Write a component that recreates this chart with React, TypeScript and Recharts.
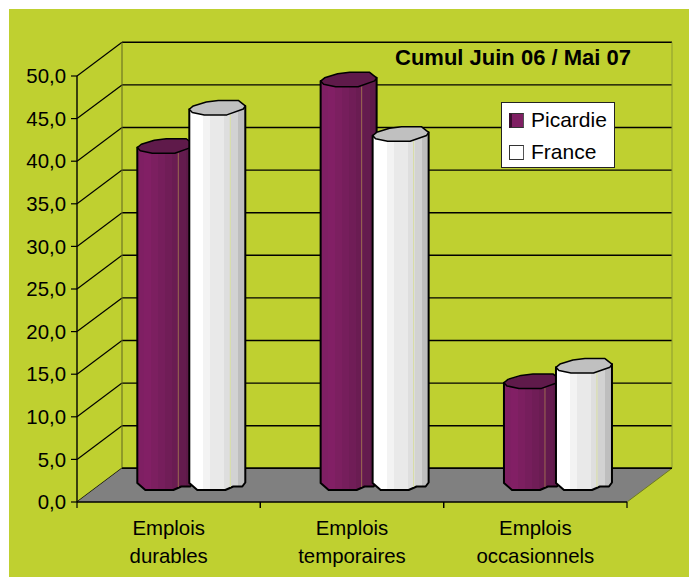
import React from 'react';
import { ComposedChart, Bar, XAxis, YAxis, CartesianGrid, Legend } from 'recharts';

const categories = ['Emplois durables', 'Emplois temporaires', 'Emplois occasionnels'];
const picardie = [39.7, 47.5, 12.1];
const france = [44.2, 41.1, 13.9];
const yTicks = [0, 5, 10, 15, 20, 25, 30, 35, 40, 45, 50];

const data = categories.map((name, i) => ({ name, picardie: picardie[i], france: france[i] }));

const FONT = '"Liberation Sans", Arial, sans-serif';
const BG = '#BFD030';

// fake 3D depth of the Excel chart
const DEPTH_X = 45;
const DEPTH_Y = 33.7;
const LEFT = 77;
const RIGHT = 627;
const BOTTOM = 502;

const PURPLE_BANDS = ['#7F1F63', '#821F65', '#7C1F60', '#761E5C', '#701D57', '#6A1C52', '#641B4E', '#5E1A49'];
const WHITE_BANDS = ['#FFFFFF', '#FFFFFF', '#F3F3F3', '#E9E9E9', '#E9E9E9', '#DEDEDE', '#D2D2D2', '#BEBEBE'];

function Bands({ id, colors }: { id: string; colors: string[] }) {
  return (
    <linearGradient id={id} x1="0" y1="0" x2="1" y2="0">
      {colors.flatMap((c, i) => [
        <stop key={`${i}a`} offset={i / colors.length} stopColor={c} />,
        <stop key={`${i}b`} offset={(i + 1) / colors.length} stopColor={c} />,
      ])}
    </linearGradient>
  );
}

// faceted cylinder, the way Excel draws it at low resolution
function Cylinder(props: any) {
  const { x, y, height, fillId, capColor, faint } = props;
  const L = x + 20.3;
  const T = y - 25;
  const B = y + height - 12;
  const body = [
    [L, T + 8.8], [L, B - 7], [L + 8, B], [L + 36, B], [L + 44, B - 3.5], [L + 53, B - 3.5], [L + 56, B - 7.5], [L + 56, T + 5.5],
  ];
  const cap = [
    [L, T + 8.8], [L + 3, T + 12], [L + 15, T + 14.5], [L + 37.5, T + 14.5], [L + 54, T + 8.6], [L + 56, T + 5.5], [L + 49, T], [L + 29, T], [L + 17, T + 1.5], [L + 4, T + 5.5],
  ];
  const pts = (a: number[][]) => a.map((p) => p.join(',')).join(' ');
  return (
    <g>
      <polygon points={pts(body)} fill={`url(#${fillId})`} stroke="#000" strokeWidth={2} strokeLinejoin="round" />
      <line x1={L + 41} x2={L + 41} y1={T + 14} y2={B - 3} stroke={faint} strokeWidth={1} />
      <polygon points={pts(cap)} fill={capColor} stroke="#000" strokeWidth={1.5} strokeLinejoin="round" />
    </g>
  );
}

function WallLine(props: any) {
  const { x1, x2, y1, y2 } = props;
  return (
    <g>
      <line x1={x1} y1={y1} x2={x1 + DEPTH_X} y2={y1 - DEPTH_Y} stroke="#000" strokeWidth={1.2} />
      <line x1={x1 + DEPTH_X} y1={y1 - DEPTH_Y} x2={x2 + DEPTH_X} y2={y2 - DEPTH_Y} stroke="#000" strokeWidth={1.4} />
    </g>
  );
}

function CategoryTick(props: any) {
  const { x, y, payload } = props;
  const half = (RIGHT - LEFT) / categories.length / 2;
  const words = String(payload.value).split(' ');
  return (
    <g>
      <line x1={x - half} x2={x - half} y1={BOTTOM} y2={BOTTOM + 6} stroke="#000" strokeWidth={1.2} />
      <line x1={x + half} x2={x + half} y1={BOTTOM} y2={BOTTOM + 6} stroke="#000" strokeWidth={1.2} />
      {words.map((w, i) => (
        <text key={w} x={x} y={y + 25 + i * 28} textAnchor="middle" fontFamily={FONT} fontSize={20.4} fill="#000">
          {w}
        </text>
      ))}
    </g>
  );
}

function LegendBox() {
  const row = (label: string, color: string, dark: string, edge: number) => (
    <div style={{ display: 'flex', alignItems: 'center', height: 32 }}>
      <span
        style={{
          display: 'inline-block',
          width: 15 - edge - 1,
          height: 13,
          marginRight: 7,
          background: color,
          borderLeft: `${edge}px solid ${dark}`,
          borderTop: '1px solid #333',
          borderBottom: '1px solid #333',
          borderRight: '1px solid #555',
        }}
      />
      <span>{label}</span>
    </div>
  );
  return (
    <div
      style={{
        boxSizing: 'border-box',
        width: 114,
        height: 66,
        padding: '1px 0 0 7px',
        background: '#fff',
        border: '1px solid #222',
        fontFamily: FONT,
        fontSize: 21,
        color: '#000',
      }}
    >
      {row('Picardie', '#7F1F63', '#3A0F2E', 3)}
      {row('France', '#fff', '#333', 1)}
    </div>
  );
}

export default function App() {
  return (
    <div style={{ position: 'absolute', left: 0, top: 0, width: 689, height: 577, background: '#fff', overflow: 'hidden' }}>
      <div style={{ position: 'absolute', left: 9, top: 9, width: 680, height: 568, background: BG }} />
      <div style={{ position: 'absolute', left: 0, top: 0 }}>
        <ComposedChart
          width={689}
          height={577}
          data={data}
          barGap={0}
          barCategoryGap={0}
          margin={{ top: 76, right: 62, bottom: 5, left: 7 }}
        >
          <defs>
            <Bands id="purpleBands" colors={PURPLE_BANDS} />
            <Bands id="whiteBands" colors={WHITE_BANDS} />
          </defs>
          <CartesianGrid vertical={false} horizontal={(p: any) => <WallLine key={p.key} {...p} />} />
          <polygon
            points={`${LEFT},${BOTTOM} ${RIGHT},${BOTTOM} ${RIGHT + DEPTH_X},${BOTTOM - DEPTH_Y} ${LEFT + DEPTH_X},${BOTTOM - DEPTH_Y}`}
            fill="#808080"
          />
          <line x1={LEFT + DEPTH_X} x2={LEFT + DEPTH_X} y1={42.3} y2={BOTTOM - DEPTH_Y} stroke="#5E6420" strokeWidth={1} />
          <line x1={RIGHT + DEPTH_X} x2={RIGHT + DEPTH_X} y1={42.3} y2={BOTTOM - DEPTH_Y} stroke="#8C9A30" strokeWidth={1} />
          <line x1={RIGHT} x2={RIGHT + DEPTH_X} y1={BOTTOM} y2={BOTTOM - DEPTH_Y} stroke="#6E7A20" strokeWidth={1} />
          <line x1={LEFT + DEPTH_X} x2={RIGHT + DEPTH_X} y1={BOTTOM - DEPTH_Y} y2={BOTTOM - DEPTH_Y} stroke="#000" strokeWidth={1.4} />
          <text x={513} y={65} textAnchor="middle" fontFamily={FONT} fontSize={22} fontWeight="bold" fill="#000">
            Cumul Juin 06 / Mai 07
          </text>
          <XAxis
            dataKey="name"
            height={70}
            interval={0}
            axisLine={{ stroke: '#000', strokeWidth: 1.4 }}
            tickLine={false}
            tick={<CategoryTick />}
          />
          <YAxis
            width={70}
            domain={[0, 50]}
            ticks={yTicks}
            interval={0}
            axisLine={{ stroke: '#000', strokeWidth: 1.4 }}
            tickLine={{ stroke: '#000', strokeWidth: 1.2 }}
            tickSize={6}
            tickMargin={5}
            tickFormatter={(v: number) => v.toFixed(1).replace('.', ',')}
            tick={{ fill: '#000', fontFamily: FONT, fontSize: 20.4 }}
          />
          <Legend
            layout="vertical"
            align="center"
            verticalAlign="middle"
            content={<LegendBox />}
            wrapperStyle={{ position: 'absolute', left: 501, top: 102, width: 114, bottom: 'auto' }}
          />
          <Bar
            dataKey="picardie"
            barSize={52}
            isAnimationActive={false}
            fill="#7F1F63"
            shape={(p: any) => <Cylinder {...p} fillId="purpleBands" capColor="#5F1A4A" faint="#9A6A50" />}
          />
          <Bar
            dataKey="france"
            barSize={52}
            isAnimationActive={false}
            fill="#FFFFFF"
            shape={(p: any) => <Cylinder {...p} fillId="whiteBands" capColor="#C0C0C0" faint="#D6DCA0" />}
          />
        </ComposedChart>
      </div>
    </div>
  );
}
